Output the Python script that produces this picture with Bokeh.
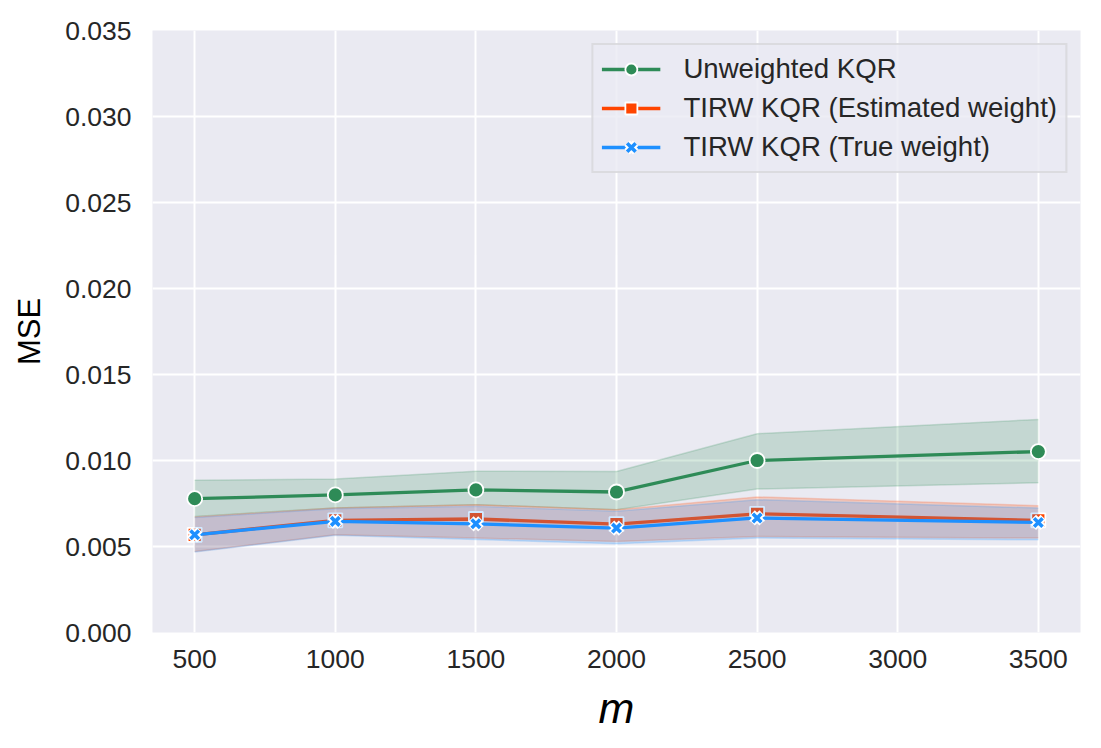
from bokeh.plotting import figure
from bokeh.models import Range1d, FixedTicker, NumeralTickFormatter, Legend, LegendItem
from bokeh.embed import file_html
from bokeh.resources import INLINE

m = [500, 1000, 1500, 2000, 2500, 3500]

unw = [0.00778, 0.00800, 0.00829, 0.00817, 0.01000, 0.01052]
unw_lo = [0.00675, 0.00724, 0.00743, 0.00714, 0.00834, 0.00870]
unw_hi = [0.00885, 0.00893, 0.00938, 0.00936, 0.01156, 0.01239]

est = [0.00568, 0.00652, 0.00660, 0.00630, 0.00690, 0.00652]
est_lo = [0.00471, 0.00568, 0.00549, 0.00529, 0.00558, 0.00549]
est_hi = [0.00672, 0.00724, 0.00743, 0.00714, 0.00788, 0.00737]

tru = [0.00568, 0.00646, 0.00632, 0.00607, 0.00666, 0.00640]
tru_lo = [0.00468, 0.00565, 0.00540, 0.00516, 0.00549, 0.00539]
tru_hi = [0.00668, 0.00720, 0.00734, 0.00705, 0.00772, 0.00724]

y_ticks = [0.0, 0.005, 0.010, 0.015, 0.020, 0.025, 0.030, 0.035]
x_ticks = [500, 1000, 1500, 2000, 2500, 3000, 3500]

GREEN = "#2E8B57"
ORANGE = "#FF4500"
BLUE = "#1E90FF"
FONT = "Liberation Sans"
TXT = "#262626"

p = figure(width=1093, height=740, output_backend="svg", toolbar_location=None,
           x_range=Range1d(350, 3650), y_range=Range1d(0, 0.035),
           min_border_left=152, min_border_right=13, min_border_top=30, min_border_bottom=108)
p.background_fill_color = "#EAEAF2"
p.border_fill_color = "white"
p.outline_line_color = None

for ax in (p.xaxis[0], p.yaxis[0]):
    ax.axis_line_color = None
    ax.major_tick_line_color = None
    ax.minor_tick_line_color = None
    ax.major_tick_out = 0
    ax.major_tick_in = 0
    ax.major_label_text_font = FONT
    ax.major_label_text_font_size = "26.5px"
    ax.major_label_text_color = TXT

p.xaxis.ticker = FixedTicker(ticks=x_ticks)
p.yaxis.ticker = FixedTicker(ticks=y_ticks)
p.yaxis.formatter = NumeralTickFormatter(format="0.000")
p.xaxis.major_label_standoff = 17
p.yaxis.major_label_standoff = 21

p.xaxis.axis_label = "m"
p.xaxis.axis_label_text_font = FONT
p.xaxis.axis_label_text_font_style = "italic"
p.xaxis.axis_label_text_font_size = "43px"
p.xaxis.axis_label_text_color = "black"
p.xaxis.axis_label_standoff = 13

p.yaxis.axis_label = "MSE"
p.yaxis.axis_label_text_font = FONT
p.yaxis.axis_label_text_font_style = "normal"
p.yaxis.axis_label_text_font_size = "31px"
p.yaxis.axis_label_text_color = "black"
p.yaxis.axis_label_standoff = 15

p.grid.grid_line_color = "white"
p.grid.grid_line_width = 2

def band(lo, hi, color):
    p.varea(x=m, y1=lo, y2=hi, fill_color=color, fill_alpha=0.2)
    p.line(m, lo, line_color=color, line_alpha=0.2, line_width=1.5)
    p.line(m, hi, line_color=color, line_alpha=0.2, line_width=1.5)

band(unw_lo, unw_hi, GREEN)
l1 = p.line(m, unw, line_color=GREEN, line_width=3.3)
s1 = p.scatter(m, unw, marker="circle", size=15, fill_color=GREEN, line_color="white", line_width=1.8)

band(est_lo, est_hi, ORANGE)
l2 = p.line(m, est, line_color=ORANGE, line_width=3.3)
s2 = p.scatter(m, est, marker="square", size=14, fill_color=ORANGE, line_color="white", line_width=1.8)

band(tru_lo, tru_hi, BLUE)
l3 = p.line(m, tru, line_color=BLUE, line_width=3.3)
s3w = p.scatter(m, tru, marker="x", size=14, line_color="white", line_width=7.5)
s3 = p.scatter(m, tru, marker="x", size=12, line_color=BLUE, line_width=3.6)

legend = Legend(items=[
    LegendItem(label="Unweighted KQR", renderers=[l1, s1]),
    LegendItem(label="TIRW KQR (Estimated weight)", renderers=[l2, s2]),
    LegendItem(label="TIRW KQR (True weight)", renderers=[l3, s3w, s3]),
], location="top_right")
legend.margin = 13
legend.padding = 8
legend.spacing = 7
legend.glyph_width = 59
legend.glyph_height = 30
legend.label_height = 30
legend.label_standoff = 23
legend.label_text_font = FONT
legend.label_text_font_size = "27.6px"
legend.label_text_color = TXT
legend.background_fill_color = "#EAEAF2"
legend.background_fill_alpha = 0.8
legend.border_line_color = "#CCCCCC"
legend.border_line_width = 2
p.add_layout(legend)

open("out.html", "w").write(file_html(p, INLINE))
